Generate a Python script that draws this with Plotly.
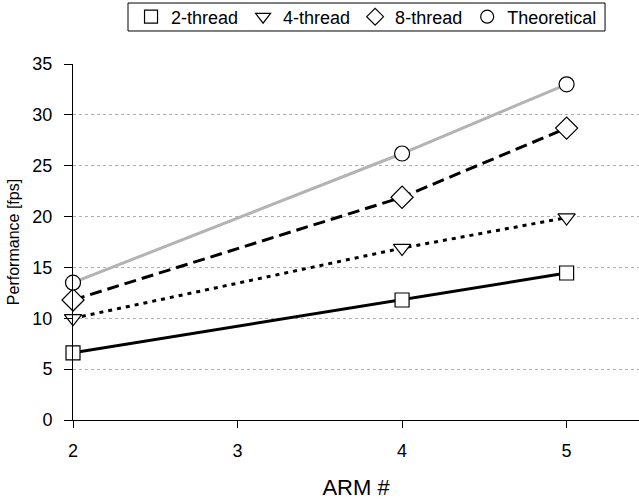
import plotly.graph_objects as go

arm = [2, 4, 5]
thread2 = [6.6, 11.8, 14.45]
thread4 = [10.0, 16.9, 19.9]
thread8 = [11.8, 21.9, 28.7]
theoretical = [13.5, 26.2, 33.0]
names = ["2-thread", "4-thread", "8-thread", "Theoretical"]

styles = [
    ("square", 14, "black", "solid"),
    ("triangle-down", 15, "black", "4px,5px"),
    ("diamond", 17, "black", "12px,6px"),
    ("circle", 15, "#b3b3b3", "solid"),
]
data = [thread2, thread4, thread8, theoretical]

fig = go.Figure()
for name, ys, (sym, size, col, dash) in zip(names, data, styles):
    fig.add_trace(go.Scatter(
        x=arm, y=ys, name=name, mode="lines+markers",
        line=dict(color=col, width=3, dash=dash),
        marker=dict(symbol=sym, size=size, color="white",
                    line=dict(color="black", width=1.2)),
        cliponaxis=False, showlegend=False, legendgroup=name,
    ))
# legend entries (marker only, as in the reference key)
for name, (sym, size, col, dash) in zip(names, styles):
    fig.add_trace(go.Scatter(
        x=[None], y=[None], name=name, mode="markers",
        marker=dict(symbol=sym, size=13, color="white",
                    line=dict(color="black", width=1.2)),
        showlegend=True, legendgroup=name,
    ))

# legend frame
fig.add_shape(type="rect", xref="paper", yref="paper",
              x0=0.0972, x1=0.940, y0=1.0927, y1=1.1713,
              line=dict(color="black", width=1), fillcolor="white", layer="above")

fig.update_layout(
    width=639, height=500,
    margin=dict(l=73, r=0, t=64, b=80),
    plot_bgcolor="white", paper_bgcolor="white",
    font=dict(family="Liberation Sans, Arial, sans-serif", size=18, color="black"),
    showlegend=True,
    legend=dict(orientation="h", xref="container", yref="container",
                x=0.5736, xanchor="center", y=0.966, yanchor="middle",
                borderwidth=0, bgcolor="rgba(0,0,0,0)",
                font=dict(size=18), itemwidth=30, tracegroupgap=0,
                itemclick=False),
    xaxis=dict(range=[2, 5.44], tickvals=[2, 3, 4, 5], showgrid=False,
               showline=True, linecolor="black", linewidth=1,
               ticks="outside", ticklen=7, tickcolor="black",
               ticklabelstandoff=7,
               title=dict(text="ARM #", standoff=20), zeroline=False),
    yaxis=dict(range=[0, 35], tickvals=[0, 5, 10, 15, 20, 25, 30, 35],
               showgrid=True, gridcolor="#b0b0b0", griddash="3px,3px", gridwidth=1,
               showline=True, linecolor="black", linewidth=1,
               ticks="outside", ticklen=8, tickcolor="black",
               ticklabelstandoff=8,
               title=dict(text="Performance [fps]", standoff=8, font=dict(size=16)),
               zeroline=False),
)
fig.write_html("out.html")
